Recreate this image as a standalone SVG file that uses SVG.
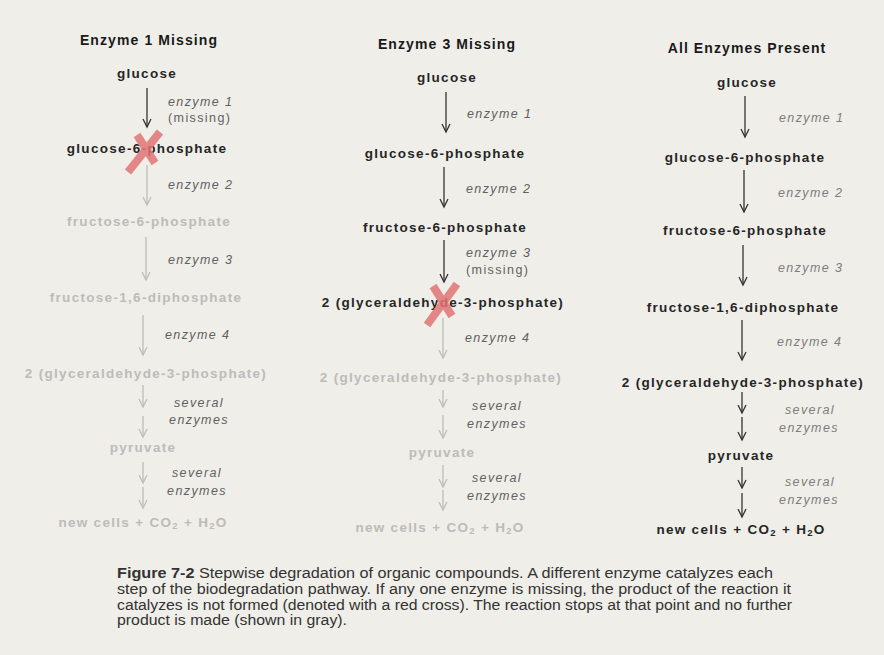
<svg xmlns="http://www.w3.org/2000/svg" width="884" height="655" viewBox="0 0 884 655">
<defs>
<marker id="ahD" markerUnits="userSpaceOnUse" markerWidth="12" markerHeight="12" refX="10" refY="6" orient="auto" viewBox="0 0 12 12">
<path d="M2,2 L10,6 L2,10" fill="none" stroke="#333" stroke-width="1.3"/>
</marker>
<marker id="ahG" markerUnits="userSpaceOnUse" markerWidth="12" markerHeight="12" refX="10" refY="6" orient="auto" viewBox="0 0 12 12">
<path d="M2,2 L10,6 L2,10" fill="none" stroke="#bdbdbb" stroke-width="1.3"/>
</marker>
</defs>
<style>
.title{font-family:"Liberation Sans",Arial,sans-serif;font-weight:bold;font-size:14px;letter-spacing:1.1px;fill:#1a1a1a;text-anchor:middle}
.n{font-family:"Liberation Sans",Arial,sans-serif;font-weight:bold;font-size:13.5px;letter-spacing:1.3px;text-anchor:middle}
.d{fill:#262626}
.g{fill:#bcbcba}
.lab{font-family:"Liberation Sans",Arial,sans-serif;font-style:italic;font-size:12.5px;letter-spacing:1.4px;fill:#616161}
.lab3{fill:#7d7d7d}
.up{font-style:normal}
.mid{text-anchor:middle}
.ad{stroke:#333;stroke-width:1.3;fill:none;marker-end:url(#ahD)}
.ag{stroke:#bdbdbb;stroke-width:1.3;fill:none;marker-end:url(#ahG)}
.x{stroke:#e07474;stroke-width:8;opacity:0.85;fill:none}
.cap{font-family:"Liberation Sans",Arial,sans-serif;font-size:14px;fill:#333}
.capb{font-weight:bold}
</style>
<rect width="884" height="655" fill="#efeee9"/>

<g id="connectors">
<!-- column 1 -->
<line class="ad" x1="147" y1="88" x2="147" y2="127"/>
<line class="ag" x1="147" y1="165" x2="147" y2="205"/>
<line class="ag" x1="146" y1="237" x2="146" y2="280"/>
<line class="ag" x1="143" y1="315" x2="143" y2="355"/>
<line class="ag" x1="143" y1="385" x2="143" y2="407"/>
<line class="ag" x1="143" y1="416" x2="143" y2="437"/>
<line class="ag" x1="143" y1="462" x2="143" y2="483"/>
<line class="ag" x1="143" y1="487" x2="143" y2="508"/>
<!-- column 2 -->
<line class="ad" x1="446" y1="92" x2="446" y2="132"/>
<line class="ad" x1="444" y1="167" x2="444" y2="207"/>
<line class="ad" x1="444" y1="240" x2="444" y2="282"/>
<line class="ag" x1="443" y1="318" x2="443" y2="358"/>
<line class="ag" x1="443" y1="390" x2="443" y2="407"/>
<line class="ag" x1="443" y1="415" x2="443" y2="438"/>
<line class="ag" x1="443" y1="465" x2="443" y2="487"/>
<line class="ag" x1="443" y1="490" x2="443" y2="510"/>
<!-- column 3 -->
<line class="ad" x1="745" y1="96" x2="745" y2="137"/>
<line class="ad" x1="744" y1="170" x2="744" y2="212"/>
<line class="ad" x1="743" y1="245" x2="743" y2="285"/>
<line class="ad" x1="742" y1="320" x2="742" y2="360"/>
<line class="ad" x1="742" y1="392" x2="742" y2="413"/>
<line class="ad" x1="742" y1="417" x2="742" y2="440"/>
<line class="ad" x1="742" y1="467" x2="742" y2="488"/>
<line class="ad" x1="742" y1="493" x2="742" y2="517"/>
</g>

<g id="col1">
<text class="title" x="149" y="45">Enzyme 1 Missing</text>
<g id="c1-glucose"><text class="n d" x="147" y="78">glucose</text></g>
<g id="c1-e1"><text class="lab" x="168" y="106">enzyme 1</text><text class="lab up" x="168" y="122">(missing)</text></g>
<g id="c1-g6p"><text class="n d" x="147" y="153">glucose-6-phosphate</text></g>
<g id="c1-e2"><text class="lab" x="168" y="189">enzyme 2</text></g>
<g id="c1-f6p"><text class="n g" x="149" y="226">fructose-6-phosphate</text></g>
<g id="c1-e3"><text class="lab" x="168" y="264">enzyme 3</text></g>
<g id="c1-f16"><text class="n g" x="146" y="302">fructose-1,6-diphosphate</text></g>
<g id="c1-e4"><text class="lab" x="165" y="339">enzyme 4</text></g>
<g id="c1-g3p"><text class="n g" x="146" y="378">2 (glyceraldehyde-3-phosphate)</text></g>
<g id="c1-s1"><text class="lab mid" x="199" y="407">several</text><text class="lab mid" x="199" y="424">enzymes</text></g>
<g id="c1-pyr"><text class="n g" x="143" y="452">pyruvate</text></g>
<g id="c1-s2"><text class="lab mid" x="197" y="477">several</text><text class="lab mid" x="197" y="495">enzymes</text></g>
<g id="c1-end"><text class="n g" x="143" y="527">new cells + CO<tspan font-size="9.5" dy="2">2</tspan><tspan dy="-2"> + H</tspan><tspan font-size="9.5" dy="2">2</tspan><tspan dy="-2">O</tspan></text></g>
<g id="c1-cross"><path class="x" d="M160,132 L128,172 M137,135 L155,163"/></g>
</g>

<g id="col2">
<text class="title" x="447" y="49">Enzyme 3 Missing</text>
<g id="c2-glucose"><text class="n d" x="447" y="82">glucose</text></g>
<g id="c2-e1"><text class="lab" x="467" y="118">enzyme 1</text></g>
<g id="c2-g6p"><text class="n d" x="445" y="158">glucose-6-phosphate</text></g>
<g id="c2-e2"><text class="lab" x="466" y="193">enzyme 2</text></g>
<g id="c2-f6p"><text class="n d" x="445" y="232">fructose-6-phosphate</text></g>
<g id="c2-e3"><text class="lab" x="466" y="257">enzyme 3</text><text class="lab up" x="466" y="274">(missing)</text></g>
<g id="c2-g3p"><text class="n d" x="443" y="307">2 (glyceraldehyde-3-phosphate)</text></g>
<g id="c2-e4"><text class="lab" x="465" y="342">enzyme 4</text></g>
<g id="c2-g3p2"><text class="n g" x="441" y="382">2 (glyceraldehyde-3-phosphate)</text></g>
<g id="c2-s1"><text class="lab mid" x="497" y="410">several</text><text class="lab mid" x="497" y="428">enzymes</text></g>
<g id="c2-pyr"><text class="n g" x="442" y="457">pyruvate</text></g>
<g id="c2-s2"><text class="lab mid" x="497" y="482">several</text><text class="lab mid" x="497" y="500">enzymes</text></g>
<g id="c2-end"><text class="n g" x="440" y="532">new cells + CO<tspan font-size="9.5" dy="2">2</tspan><tspan dy="-2"> + H</tspan><tspan font-size="9.5" dy="2">2</tspan><tspan dy="-2">O</tspan></text></g>
<g id="c2-cross"><path class="x" d="M457,284 L427,325 M433,286 L452,316"/></g>
</g>

<g id="col3">
<text class="title" x="747" y="53">All Enzymes Present</text>
<g id="c3-glucose"><text class="n d" x="747" y="87">glucose</text></g>
<g id="c3-e1"><text class="lab lab3" x="779" y="122">enzyme 1</text></g>
<g id="c3-g6p"><text class="n d" x="745" y="162">glucose-6-phosphate</text></g>
<g id="c3-e2"><text class="lab lab3" x="778" y="197">enzyme 2</text></g>
<g id="c3-f6p"><text class="n d" x="745" y="235">fructose-6-phosphate</text></g>
<g id="c3-e3"><text class="lab lab3" x="778" y="272">enzyme 3</text></g>
<g id="c3-f16"><text class="n d" x="743" y="312">fructose-1,6-diphosphate</text></g>
<g id="c3-e4"><text class="lab lab3" x="777" y="346">enzyme 4</text></g>
<g id="c3-g3p"><text class="n d" x="743" y="387">2 (glyceraldehyde-3-phosphate)</text></g>
<g id="c3-s1"><text class="lab lab3 mid" x="810" y="414">several</text><text class="lab lab3 mid" x="809" y="432">enzymes</text></g>
<g id="c3-pyr"><text class="n d" x="741" y="460">pyruvate</text></g>
<g id="c3-s2"><text class="lab lab3 mid" x="810" y="486">several</text><text class="lab lab3 mid" x="809" y="504">enzymes</text></g>
<g id="c3-end"><text class="n d" x="741" y="534">new cells + CO<tspan font-size="9.5" dy="2">2</tspan><tspan dy="-2"> + H</tspan><tspan font-size="9.5" dy="2">2</tspan><tspan dy="-2">O</tspan></text></g>
</g>

<g id="caption">
<text class="cap" x="117" y="578" textLength="656" lengthAdjust="spacingAndGlyphs"><tspan class="capb">Figure 7-2</tspan>  Stepwise degradation of organic compounds. A different enzyme catalyzes each</text>
<text class="cap" x="117" y="594" textLength="674" lengthAdjust="spacingAndGlyphs">step of the biodegradation pathway. If any one enzyme is missing, the product of the reaction it</text>
<text class="cap" x="117" y="610" textLength="675" lengthAdjust="spacingAndGlyphs">catalyzes is not formed (denoted with a red cross). The reaction stops at that point and no further</text>
<text class="cap" x="117" y="625" textLength="230" lengthAdjust="spacingAndGlyphs">product is made (shown in gray).</text>
</g>
</svg>
